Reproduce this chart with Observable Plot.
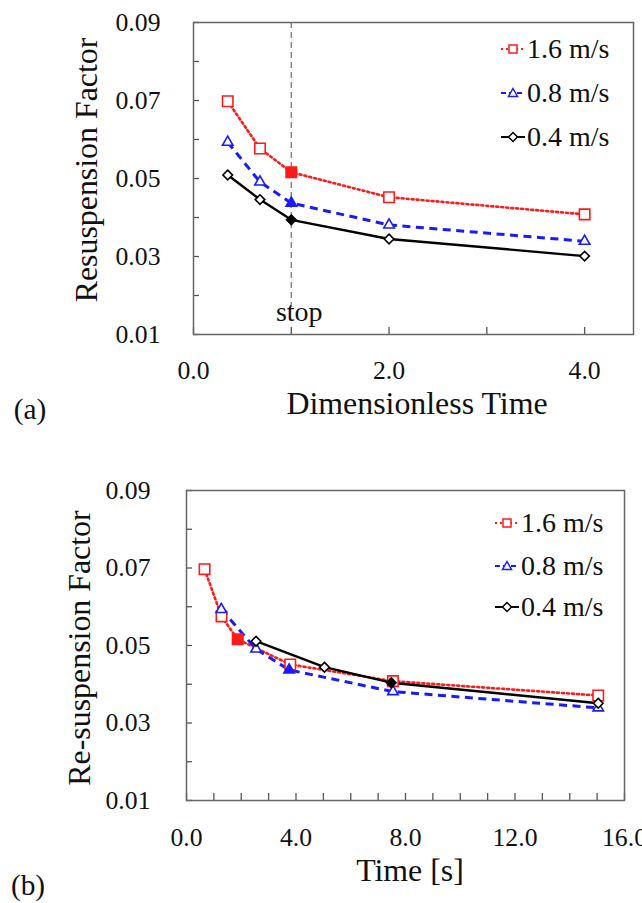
<!DOCTYPE html>
<html>
<head>
<meta charset="utf-8">
<script src="https://cdn.jsdelivr.net/npm/d3@7"></script>
<script src="https://cdn.jsdelivr.net/npm/@observablehq/plot@0.6"></script>
<style>
  html, body { margin: 0; padding: 0; background: #fff; }
  body { width: 642px; height: 903px; overflow: hidden; color: #111; }
  #wrap { position: relative; width: 642px; height: 903px; }
  .panel { position: absolute; left: 0; }
  .panel svg { overflow: visible; }
  .txt { position: absolute; line-height: 1; white-space: nowrap; color: #111; }
  .legsym { position: absolute; }
</style>
</head>
<body>
<div id="wrap">
  <div id="pa" class="panel" style="top:0px"></div>
  <div id="pb" class="panel" style="top:440px"></div>
</div>
<script>
// ---------- data ----------
const seriesNames = ["1.6 m/s", "0.8 m/s", "0.4 m/s"];
const seriesColors = ["#ff1a1a", "#1a1aff", "#000000"];

// (a) dimensionless time
const dimTime = [0.35, 0.68, 1.0, 2.0, 4.0];
const factorA16 = [0.0698, 0.0577, 0.0516, 0.0452, 0.0408];
const factorA08 = [0.0593, 0.0491, 0.0437, 0.0381, 0.0339];
const factorA04 = [0.0509, 0.0446, 0.0394, 0.0345, 0.0301];

// (b) time in seconds
const timeB16 = [0.66, 1.28, 1.87, 3.79, 7.54, 15.04];
const factorB16 = [0.0697, 0.0575, 0.0516, 0.0451, 0.0408, 0.0371];
const timeB08 = [1.27, 2.54, 3.75, 7.54, 15.04];
const factorB08 = [0.0593, 0.0491, 0.0437, 0.0381, 0.0339];
const timeB04 = [2.54, 5.04, 7.48, 15.04];
const factorB04 = [0.0511, 0.0444, 0.0404, 0.0351];

// filled ("stop") point index in each series
const stopIndex = 2;
const stopTime = [1.0];
const stopLabel = "stop";

// ticks
const yTickLabels = [0.01, 0.03, 0.05, 0.07, 0.09];
const yTickMarks = [0.01, 0.02, 0.03, 0.04, 0.05, 0.06, 0.07, 0.08, 0.09];
const xTickLabelsA = [0, 2, 4];
const xTickMarksA = [0, 1, 2, 3, 4];
const xTickLabelsB = [0, 4, 8, 12, 16];
const xTickMarksB = [0, 1, 2, 3, 4, 5, 6, 7, 8, 9, 10, 11, 12, 13, 14, 15, 16];

const titleYA = "Resuspension Factor";
const titleXA = "Dimensionless Time";
const titleYB = "Re-suspension Factor";
const titleXB = "Time [s]";
const panelTags = ["(a)", "(b)"];

// ---------- font selection & sizing ----------
const cnv = document.createElement("canvas").getContext("2d");
function measure(text, fam) { cnv.font = `100px ${fam}`; return cnv.measureText(text).width; }
function available(name) {
  const probe = "0.09 Resuspension Factor";
  return ["monospace", "sans-serif"].every(fb => measure(probe, `"${name}", ${fb}`) !== measure(probe, fb));
}
const famName = ["Liberation Serif", "Tinos", "Times New Roman", "DejaVu Serif", "Noto Serif"].find(available);
const FONT = famName ? `"${famName}", serif` : "serif";
function fitSize(text, targetWidth) { return targetWidth / measure(text, FONT) * 100; }

const tickFont = Math.min(26, fitSize("0.09", 45));
const titleFont = Math.min(32, fitSize(titleXA, 262));
const legendFont = Math.min(28, fitSize("1.6 m/s", 84));
const stopFont = Math.min(28, fitSize("stop", 47));

// ---------- helpers ----------
const diamondSym = {
  draw(ctx, size) {
    const h = Math.sqrt(size / Math.PI);
    ctx.moveTo(0, -h); ctx.lineTo(h, 0); ctx.lineTo(0, h); ctx.lineTo(-h, 0); ctx.closePath();
  }
};
const styles = [
  {dash: "2,3", width: 2.6, symbol: "square", r: 5.9},
  {dash: "8,5.5", width: 3, symbol: "triangle", r: 3.9},
  {dash: null, width: 2.4, symbol: diamondSym, r: 4.8}
];

function rowsOf(xs, ys) {
  return xs.map((x, i) => ({x, y: ys[i], filled: i === stopIndex}));
}

function seriesMarks(xsList, ysList) {
  const marks = [];
  xsList.forEach((xs, k) => {
    const rows = rowsOf(xs, ysList[k]);
    const st = styles[k];
    marks.push(Plot.line(rows, {x: "x", y: "y", stroke: seriesColors[k], strokeWidth: st.width,
      strokeDasharray: st.dash, strokeLinecap: k === 0 ? "round" : "butt", strokeLinejoin: "round"}));
  });
  xsList.forEach((xs, k) => {
    const rows = rowsOf(xs, ysList[k]);
    const st = styles[k];
    marks.push(Plot.dot(rows.filter(d => !d.filled), {x: "x", y: "y", symbol: () => st.symbol, r: st.r,
      stroke: seriesColors[k], fill: "white", strokeWidth: 1.6}));
    marks.push(Plot.dot(rows.filter(d => d.filled), {x: "x", y: "y", symbol: () => st.symbol, r: st.r,
      stroke: seriesColors[k], fill: seriesColors[k], strokeWidth: 1.6}));
  });
  return marks;
}

const hasAxisMarks = typeof Plot.axisY === "function";
const fmtY = d => yTickLabels.some(v => Math.abs(v - d) < 1e-9) ? d.toFixed(2) : "";
const fmtX = labels => d => labels.includes(d) ? d.toFixed(1) : "";

function axisMarks(xLabels, xMarks, yPad, xPad) {
  if (!hasAxisMarks) return [];
  return [
    Plot.axisY({ticks: yTickMarks, tickSize: 6, dx: 6, tickFormat: () => "", label: null, stroke: "#555", strokeWidth: 1.3}),
    Plot.axisY({ticks: yTickLabels, tickSize: 0, tickPadding: yPad, tickFormat: d => d.toFixed(2), label: null, fontSize: tickFont, fontFamily: FONT, fill: "#111"}),
    Plot.axisX({ticks: xMarks, tickSize: 7, dy: -7, tickFormat: () => "", label: null, stroke: "#555", strokeWidth: 1.3}),
    Plot.axisX({ticks: xLabels, tickSize: 0, tickPadding: xPad, tickFormat: d => d.toFixed(1), label: null, fontSize: tickFont, fontFamily: FONT, fill: "#111"})
  ];
}
function scaleOpts(domain, ticks, fmt, pad) {
  if (hasAxisMarks) return {domain, axis: null};
  return {domain, ticks, tickSize: -6, tickPadding: pad, tickFormat: fmt, label: null};
}
const plotStyle = {fontFamily: FONT, fontSize: tickFont + "px", background: "white", color: "#111"};

function forceFont(svg) {
  svg.querySelectorAll("[font-family]").forEach(n => n.removeAttribute("font-family"));
  svg.querySelectorAll("text").forEach(t => { t.style.fontFamily = FONT; });
  return svg;
}

// ---------- panel (a) ----------
const plotA = Plot.plot({
  width: 642, height: 440,
  marginLeft: 193, marginRight: 9, marginTop: 22, marginBottom: 106,
  style: plotStyle,
  x: scaleOpts([0, 4.5], xTickMarksA, fmtX(xTickLabelsA), 26),
  y: scaleOpts([0.01, 0.09], yTickMarks, fmtY, 33),
  marks: [
    Plot.ruleX(stopTime, {x: d => d, insetBottom: 27, stroke: "#888", strokeWidth: 1.5, strokeDasharray: "6,4"}),
    Plot.text(stopTime, {x: d => d, frameAnchor: "bottom", dy: -14, dx: 8, text: () => stopLabel, fontSize: stopFont, fontFamily: FONT, fill: "#111"}),
    ...seriesMarks([dimTime, dimTime, dimTime], [factorA16, factorA08, factorA04]),
    ...axisMarks(xTickLabelsA, xTickMarksA, 33, 26),
    Plot.frame({stroke: "#666", strokeWidth: 1.5})
  ]
});
document.getElementById("pa").appendChild(forceFont(plotA));

// ---------- panel (b) ----------
const plotB = Plot.plot({
  width: 642, height: 463,
  marginLeft: 186, marginRight: 18, marginTop: 50, marginBottom: 103,
  style: plotStyle,
  x: scaleOpts([0, 16], xTickMarksB, fmtX(xTickLabelsB), 27),
  y: scaleOpts([0.01, 0.09], yTickMarks, fmtY, 36),
  marks: [
    ...seriesMarks([timeB16, timeB08, timeB04], [factorB16, factorB08, factorB04]),
    ...axisMarks(xTickLabelsB, xTickMarksB, 36, 27),
    Plot.frame({stroke: "#666", strokeWidth: 1.5})
  ]
});
document.getElementById("pb").appendChild(forceFont(plotB));

// ---------- titles, legends, panel tags ----------
const wrap = document.getElementById("wrap");
function addText(txt, cx, cy, size, rotate, anchorLeft) {
  const d = document.createElement("div");
  d.className = "txt";
  d.style.fontFamily = FONT;
  d.style.fontSize = size + "px";
  d.style.left = cx + "px";
  d.style.top = cy + "px";
  d.style.transform = (anchorLeft ? "translate(0,-50%)" : "translate(-50%,-50%)") + (rotate ? ` rotate(${rotate}deg)` : "");
  d.textContent = txt;
  wrap.appendChild(d);
  return d;
}
addText(titleYA, 87, 170, titleFont, -90);
addText(titleXA, 417, 404, titleFont, 0);
addText(titleYB, 80, 648, titleFont, -90);
addText(titleXB, 410, 871, titleFont, 0);
addText(panelTags[0], 30, 410, titleFont * 0.92, 0);
addText(panelTags[1], 28, 886, titleFont * 0.92, 0);

function symbolSvg(k) {
  const c = seriesColors[k];
  const dash = k === 0 ? 'stroke-dasharray="2,3"' : k === 1 ? 'stroke-dasharray="5,3"' : '';
  const line = `<line x1="1" y1="9" x2="25" y2="9" stroke="${c}" stroke-width="2" ${dash}/>`;
  let sym;
  if (k === 0) sym = `<rect x="9" y="5" width="8" height="8" fill="white" stroke="${c}" stroke-width="1.5"/>`;
  else if (k === 1) sym = `<path d="M13,4.5 L17.5,12.5 L8.5,12.5 Z" fill="white" stroke="${c}" stroke-width="1.5"/>`;
  else sym = `<path d="M13,4.5 L17.5,9 L13,13.5 L8.5,9 Z" fill="white" stroke="${c}" stroke-width="1.5"/>`;
  return `<svg width="26" height="18" viewBox="0 0 26 18">${line}${sym}</svg>`;
}
function addLegend(centersY, symX, textX) {
  seriesNames.forEach((name, k) => {
    const s = document.createElement("div");
    s.className = "legsym";
    s.style.left = (symX - 13) + "px";
    s.style.top = (centersY[k] - 9) + "px";
    s.innerHTML = symbolSvg(k);
    wrap.appendChild(s);
    addText(name, textX, centersY[k], legendFont, 0, true);
  });
}
addLegend([49, 93, 137], 513, 527);
addLegend([523, 566, 607], 507, 521);
</script>
</body>
</html>
